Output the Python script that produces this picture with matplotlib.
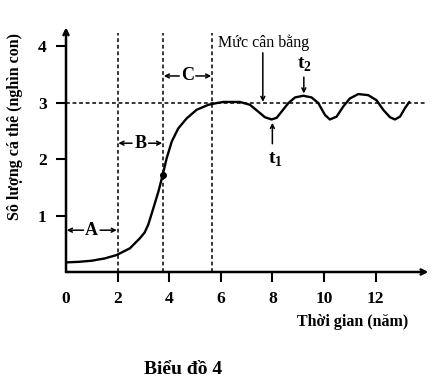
import matplotlib
matplotlib.use("Agg")
import matplotlib.pyplot as plt

# curve (years, thousand individuals)
years = [0.0, 0.5, 1.0, 1.5, 1.96, 2.48, 2.87, 3.05, 3.19, 3.38, 3.58, 3.75, 3.90,
         4.10, 4.35, 4.68, 5.06, 5.52, 5.84, 6.10, 6.74, 7.13, 7.45, 7.71, 7.97,
         8.17, 8.36, 8.62, 8.88, 9.20, 9.52, 9.78, 10.04, 10.23, 10.49, 10.75,
         11.0, 11.33, 11.72, 12.04, 12.30, 12.56, 12.75, 12.95, 13.14, 13.31]
population = [0.17, 0.18, 0.20, 0.24, 0.30, 0.42, 0.60, 0.70, 0.84, 1.12, 1.42,
              1.72, 2.01, 2.31, 2.54, 2.72, 2.87, 2.96, 2.99, 3.01, 3.01, 2.96,
              2.84, 2.74, 2.70, 2.73, 2.84, 2.99, 3.09, 3.12, 3.09, 2.99, 2.78,
              2.70, 2.75, 2.93, 3.07, 3.15, 3.13, 3.04, 2.87, 2.74, 2.70, 2.75,
              2.90, 3.01]

equilibrium = 3.0
phase_bounds = [2.0, 3.76, 5.66]
phase_names = ["A", "B", "C"]
phase_label_y = [0.74, 2.28, 3.47]
inflection = (3.75, 1.72)

x_ticks = [0, 2, 4, 6, 8, 10, 12]
y_ticks = [1, 2, 3, 4]

plt.rcParams["font.family"] = ["Liberation Serif", "DejaVu Serif"]
plt.rcParams["mathtext.fontset"] = "custom"
plt.rcParams["mathtext.rm"] = "Liberation Serif"
plt.rcParams["mathtext.bf"] = "Liberation Serif:bold"

fig = plt.figure(figsize=(4.34, 3.81), dpi=100)
ax = fig.add_axes([0.1521, 0.2861, 0.838, 0.645])
ax.set_xlim(0, 14.1)
ax.set_ylim(0, 4.35)
for s in ax.spines.values():
    s.set_visible(False)

# axes with arrow heads
ax.annotate("", xy=(14.05, 0), xytext=(0, 0), annotation_clip=False,
            arrowprops=dict(arrowstyle="->", lw=1.8, color="black",
                            shrinkA=0, shrinkB=0, mutation_scale=9))
ax.annotate("", xy=(0, 4.33), xytext=(0, 0), annotation_clip=False,
            arrowprops=dict(arrowstyle="->", lw=1.8, color="black",
                            shrinkA=0, shrinkB=0, mutation_scale=9))

ax.set_xticks(x_ticks)
ax.set_xticklabels([str(v) for v in x_ticks], fontweight="bold", fontsize=12.5)
ax.set_yticks(y_ticks)
ax.set_yticklabels([str(v) for v in y_ticks], fontweight="bold", fontsize=12.5)
ax.tick_params(direction="out", length=7, width=1.5, pad=7, colors="black")
ax.xaxis.get_major_ticks()[0].tick1line.set_visible(False)

# equilibrium + phase boundaries
ax.plot([0, 14.0], [equilibrium, equilibrium], color="black", lw=1.1,
        linestyle=(0, (2.5, 1.8)), clip_on=False)
for xb in phase_bounds:
    ax.plot([xb, xb], [0, 4.23], color="black", lw=1.1,
            linestyle=(0, (2.5, 1.8)), clip_on=False)

ax.plot(years, population, color="black", lw=1.7, solid_joinstyle="round",
        solid_capstyle="round")
ax.plot(*inflection, "o", color="black", ms=4)

# phase labels with arrows
lefts = [0.0] + phase_bounds[:-1]
for name, x0, x1, yl in zip(phase_names, lefts, phase_bounds, phase_label_y):
    xc = (x0 + x1) / 2
    ax.text(xc, yl, name, ha="center", va="center", fontsize=13, fontweight="bold")
    for start, end in [(xc - 0.32, x0 + 0.03), (xc + 0.32, x1 - 0.03)]:
        ax.annotate("", xy=(end, yl), xytext=(start, yl),
                    arrowprops=dict(arrowstyle="->", lw=1.1, color="black",
                                    shrinkA=0, shrinkB=0, mutation_scale=7))

# equilibrium label
ax.text(5.88, 4.05, "Mức cân bằng", ha="left", va="center", fontsize=11.5)
ax.annotate("", xy=(7.63, 3.01), xytext=(7.63, 3.88),
            arrowprops=dict(arrowstyle="->", lw=1.1, color="black",
                            shrinkA=0, shrinkB=0, mutation_scale=7))

ax.text(9.26, 3.66, r"$\mathbf{t}_\mathbf{2}$", ha="center", va="center", fontsize=14)
ax.annotate("", xy=(9.22, 3.16), xytext=(9.22, 3.45),
            arrowprops=dict(arrowstyle="->", lw=1.1, color="black",
                            shrinkA=0, shrinkB=0, mutation_scale=7))
ax.text(8.1, 1.98, r"$\mathbf{t}_\mathbf{1}$", ha="center", va="center", fontsize=14)
ax.annotate("", xy=(8.0, 2.64), xytext=(8.0, 2.27),
            arrowprops=dict(arrowstyle="->", lw=1.1, color="black",
                            shrinkA=0, shrinkB=0, mutation_scale=7))

fig.text(15 / 434, 1 - 126 / 381, "Sô lượng cá thê (nghìn con)", rotation=90,
         ha="center", va="center", fontsize=11.5, fontweight="bold")
fig.text(353 / 434, 1 - 322 / 381, "Thời gian (năm)", ha="center", va="center",
         fontsize=11.5, fontweight="bold")
fig.text(183 / 434, 1 - 370 / 381, "Biểu đồ 4", ha="center", va="center",
         fontsize=14, fontweight="bold")

fig.savefig("out.png", dpi=100)
